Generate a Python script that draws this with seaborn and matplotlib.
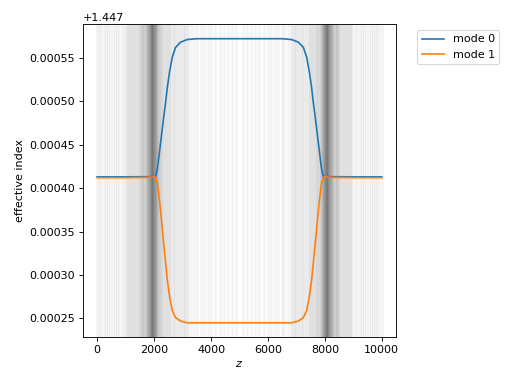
import numpy as np
import pandas as pd
import matplotlib
matplotlib.use("Agg")
import matplotlib.pyplot as plt
import seaborn as sns

# z sample positions of the simulation grid (drawn as faint vertical lines)
z_grid = [
    0, 80, 150, 230, 300, 390, 460, 540, 620, 700, 780, 860, 940,
    1000, 1040, 1080, 1120, 1150, 1190, 1230, 1260, 1300, 1330, 1370, 1400, 1430, 1460, 1490,
    1520, 1540, 1560, 1580, 1600, 1620, 1640, 1660, 1680, 1700, 1720, 1740,
    1755, 1765, 1775, 1785, 1795, 1805, 1815, 1825, 1835, 1845, 1855, 1865, 1875,
    1882, 1889, 1896, 1902, 1908, 1914, 1920, 1926, 1932, 1938, 1944, 1950, 1956,
    1962, 1969, 1976, 1984, 1992,
    2000, 2008, 2016, 2024, 2032, 2040, 2050, 2060, 2070, 2080,
    2095, 2110, 2125, 2140, 2160, 2180, 2200,
    2230, 2260, 2290, 2320, 2350, 2390, 2420, 2450, 2490, 2520, 2560, 2600,
    2650, 2700, 2750, 2800, 2850, 2900, 2950, 3000, 3050, 3100, 3150, 3200,
    3300, 3420, 3520, 3640, 3760, 3880, 4000, 4150, 4300, 4450, 4600, 4750, 4880,
    5120, 5250, 5400, 5550, 5700, 5850, 6000, 6120, 6240, 6360, 6480, 6580, 6700,
    6800, 6850, 6900, 6950, 7000, 7050, 7100, 7150, 7200, 7250, 7300, 7350,
    7400, 7440, 7480, 7510, 7550, 7580, 7610, 7650, 7680, 7710, 7740, 7770,
    7800, 7820, 7840, 7860, 7875, 7890, 7905,
    7920, 7930, 7940, 7950, 7960, 7968, 7976, 7984, 7992, 8000,
    8008, 8016, 8024, 8031, 8038, 8044, 8050, 8056, 8062, 8068, 8074, 8080,
    8086, 8092, 8098, 8104, 8111, 8118,
    8125, 8135, 8145, 8155, 8165, 8175, 8185, 8195, 8205, 8215, 8225, 8235, 8245,
    8260, 8280, 8300, 8320, 8340, 8360, 8380, 8400, 8420, 8440, 8460, 8480,
    8510, 8540, 8570, 8600, 8630, 8670, 8700, 8740, 8770, 8810, 8850, 8880, 8920, 8960,
    9060, 9140, 9220, 9300, 9380, 9460, 9540, 9610, 9700, 9770, 9850, 9920, 10000,
]

# sampled curve positions and effective indices
z_curve = [
    0, 1000, 1900, 1990, 2060, 2120, 2175, 2235, 2290, 2350, 2410, 2465,
    2550, 2640, 2755, 2930, 3160, 3500, 5000, 6500, 6840, 7070, 7245,
    7360, 7450, 7535, 7590, 7650, 7710, 7765, 7825, 7880, 7940, 8010,
    8100, 9000, 10000,
]
mode0 = [
    1.447413, 1.447413, 1.4474132, 1.4474135, 1.447414, 1.447423, 1.447438, 1.447454,
    1.447469, 1.447485, 1.447500, 1.447516, 1.447535, 1.447551, 1.447562,
    1.447568, 1.447571, 1.447572, 1.447572, 1.447572, 1.447571, 1.447568,
    1.447562, 1.447551, 1.447535, 1.447516, 1.447500, 1.447485, 1.447469,
    1.447454, 1.447438, 1.447423, 1.447414, 1.4474135, 1.4474132, 1.447413, 1.447413,
]
mode1 = [
    1.447412, 1.447412, 1.4474125, 1.4474135, 1.447412, 1.447405, 1.447390, 1.447372,
    1.447352, 1.447332, 1.447312, 1.447294, 1.447274, 1.447259, 1.447251,
    1.447247, 1.447245, 1.447245, 1.447245, 1.447245, 1.447245, 1.447247,
    1.447251, 1.447259, 1.447274, 1.447294, 1.447312, 1.447332, 1.447352,
    1.447372, 1.447390, 1.447405, 1.447412, 1.4474135, 1.4474125, 1.447412, 1.447412,
]
mode_labels = ["mode 0", "mode 1"]

df = pd.DataFrame({
    "z": z_curve + z_curve,
    "n": mode0 + mode1,
    "mode": [mode_labels[0]] * len(z_curve) + [mode_labels[1]] * len(z_curve),
})

fig = plt.figure(figsize=(6.4, 4.8), dpi=80)
ax = fig.add_axes([0.162, 0.1224, 0.6114, 0.8138])

for z in z_grid:
    ax.axvline(z, color="k", alpha=0.045, lw=2.5, zorder=1)

sns.lineplot(data=df, x="z", y="n", hue="mode", ax=ax, zorder=3,
             palette=["#1f77b4", "#ff7f0e"], lw=1.5)

ax.set_xlabel("$z$")
ax.set_ylabel("effective index")
ax.set_xticks([0, 2000, 4000, 6000, 8000, 10000])
ax.set_yticks([1.44725, 1.4473, 1.44735, 1.4474, 1.44745, 1.4475, 1.44755])

handles, labels = ax.get_legend_handles_labels()
ax.legend(handles, labels, bbox_to_anchor=(1.05, 1), loc="upper left")

fig.savefig("out.png", dpi=80)
